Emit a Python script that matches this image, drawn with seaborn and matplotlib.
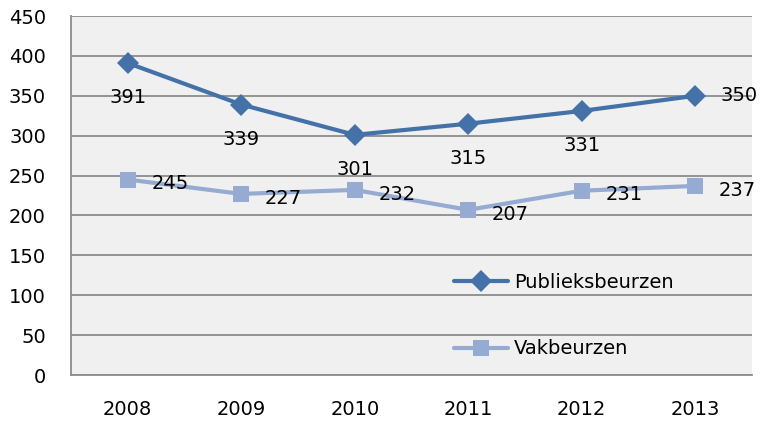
import matplotlib
matplotlib.use("Agg")
import matplotlib.pyplot as plt
import pandas as pd
import seaborn as sns

years = ["2008", "2009", "2010", "2011", "2012", "2013"]
publieks = [391, 339, 301, 315, 331, 350]
vak = [245, 227, 232, 207, 231, 237]
series_names = ["Publieksbeurzen", "Vakbeurzen"]
y_ticks = [0, 50, 100, 150, 200, 250, 300, 350, 400, 450]

DARK = "#4472a8"
LIGHT = "#95abd2"
FS = 14


def main() -> None:
    df = pd.DataFrame(
        {
            "year": years * 2,
            "value": publieks + vak,
            "series": [series_names[0]] * len(years) + [series_names[1]] * len(years),
        }
    )

    sns.set_style("white")
    plt.rcParams["font.family"] = ["DejaVu Sans"]
    plt.rcParams["text.color"] = "black"
    fig = plt.figure(figsize=(7.62, 4.23), dpi=100)
    ax = fig.add_axes([71 / 762, 48 / 423, 681 / 762, 359 / 423])
    ax.set_facecolor("#f0f0f0")

    sns.lineplot(
        data=df,
        x="year",
        y="value",
        hue="series",
        style="series",
        markers={series_names[0]: "D", series_names[1]: "s"},
        dashes=False,
        palette={series_names[0]: DARK, series_names[1]: LIGHT},
        linewidth=3,
        markersize=11,
        markeredgewidth=0,
        sort=False,
        ax=ax,
    )

    # data labels
    for i, v in enumerate(publieks):
        if i == len(publieks) - 1:
            ax.annotate(str(v), (i, v), xytext=(18, 0), textcoords="offset points",
                        ha="left", va="center", fontsize=FS, color="black",
                        annotation_clip=False)
        else:
            ax.annotate(str(v), (i, v), xytext=(0, -25), textcoords="offset points",
                        ha="center", va="center", fontsize=FS, color="black")
    for i, v in enumerate(vak):
        ax.annotate(str(v), (i, v), xytext=(17, -3), textcoords="offset points",
                    ha="left", va="center", fontsize=FS, color="black",
                    annotation_clip=False)

    ax.set_xlim(-0.5, len(years) - 0.5)
    ax.set_ylim(0, 450)
    ax.set_yticks(y_ticks)
    ax.grid(axis="y", color="#8c8c8c", linewidth=1.3)
    ax.set_axisbelow(True)
    for side in ["top", "right"]:
        ax.spines[side].set_visible(False)
    for side in ["left", "bottom"]:
        ax.spines[side].set_color("#8c8c8c")
        ax.spines[side].set_linewidth(1.3)
    ax.tick_params(axis="both", labelsize=FS, length=0, colors="black")
    ax.tick_params(axis="x", pad=18)
    ax.tick_params(axis="y", pad=18)
    ax.set_xlabel("")
    ax.set_ylabel("")

    leg = ax.legend(
        title="",
        loc="upper left",
        bbox_to_anchor=(0.562, 0.285),
        frameon=False,
        fontsize=FS,
        labelspacing=2.45,
        handlelength=2.8,
        handletextpad=0.3,
        borderpad=0,
        borderaxespad=0,
        markerscale=1.0,
    )
    for t in leg.get_texts():
        t.set_color("black")

    fig.savefig("out.png", dpi=100)
    plt.close(fig)


if __name__ == "__main__":
    main()
